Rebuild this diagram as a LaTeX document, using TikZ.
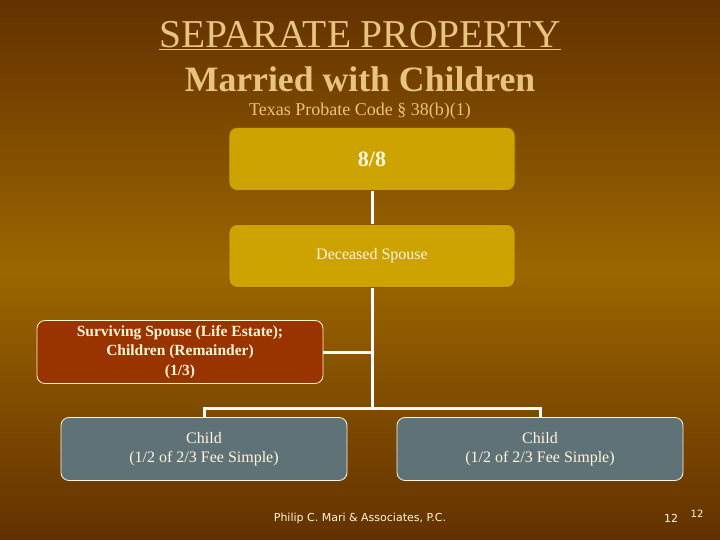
\documentclass[tikz,border=0pt]{standalone}
\usepackage{fontspec}
\setmainfont{Liberation Serif}
\newfontfamily\footfont{DejaVu Sans}
\usetikzlibrary{positioning}
\definecolor{bgdark}{HTML}{633100}
\definecolor{bglight}{HTML}{9C6600}
\definecolor{titletan}{HTML}{E8C47E}
\definecolor{goldfill}{HTML}{CCA300}
\definecolor{goldline}{HTML}{8A5800}
\definecolor{rustfill}{HTML}{993300}
\definecolor{slatefill}{HTML}{5E7278}
\definecolor{boxtext}{HTML}{FFF6DA}

\begin{document}
\begin{tikzpicture}[x=1pt,y=-1pt,
        box/.style={rounded corners=8pt,minimum width=286pt,minimum height=63pt,
        align=center,text=boxtext,font=\fontsize{16}{19.5}\selectfont},
        goldbox/.style={box,fill=goldfill,draw=goldline,thick},
        rustbox/.style={box,fill=rustfill,draw=boxtext,thick},
        slatebox/.style={box,fill=slatefill,draw=boxtext,thick},
        link/.style={draw=white,line width=3pt}]

        % Background
        \shade[top color=bgdark,bottom color=bgdark,middle color=bglight] (0,0) rectangle (720,540);
        \useasboundingbox (0,0) rectangle (720,540);

        % Titles
        \node[text=titletan,font=\fontsize{39.5}{42}\selectfont] (title) at (360,36) {\underline{SEPARATE PROPERTY}};
        \node[text=titletan,font=\fontsize{35.7}{38}\selectfont\bfseries] (subtitle) at (360,79) {Married with Children};
        \node[text=titletan,font=\fontsize{18}{20}\selectfont] (code) at (360,111) {Texas Probate Code \S\ 38(b)(1)};

        % Boxes
        \node[goldbox,font=\fontsize{22}{24}\selectfont\bfseries] (estate) at (372,159) {8/8};
        \node[goldbox] (deceased) at (372,256) {Deceased Spouse};
        \node[rustbox,font=\fontsize{15.5}{19.5}\selectfont\bfseries] (survivor) at (180,352) {Surviving Spouse (Life Estate);\\Children (Remainder)\\(1/3)};
        \node[slatebox] (child1) at (204,449) {Child\\(1/2 of 2/3 Fee Simple)};
        \node[slatebox] (child2) at (540,449) {Child\\(1/2 of 2/3 Fee Simple)};

        % Connectors
        \coordinate (split) at (372,408);
        \draw[link] (estate.south) -- (deceased.north);
        \draw[link] (deceased.south) -- (split);
        \draw[link] (survivor.east) -- (survivor.east -| split);
        \draw[link] (child1.north) |- (split) -| (child2.north);

        % Footer
        \node[text=boxtext,font=\footfont\fontsize{11}{13}\selectfont] (firm) at (360,518) {Philip C. Mari \& Associates, P.C.};
        \node[text=boxtext,font=\footfont\fontsize{11}{13}\selectfont] (page) at (671,518) {12};
        \node[text=boxtext,font=\footfont\fontsize{10}{12}\selectfont] (slide) at (697,514) {12};
\end{tikzpicture}
\end{document}
